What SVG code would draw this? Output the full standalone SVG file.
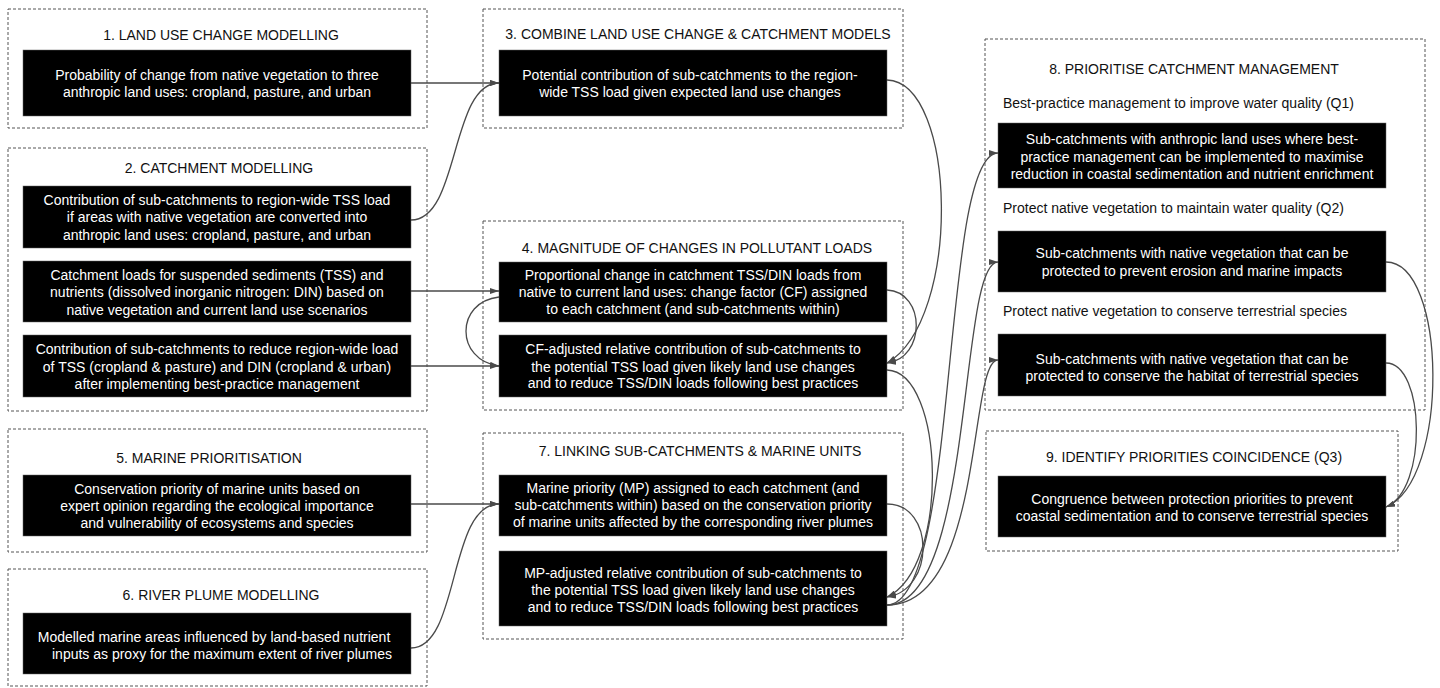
<svg xmlns="http://www.w3.org/2000/svg" width="1440" height="688" viewBox="0 0 1440 688">
<defs>
<style>
.grp{fill:none;stroke:#555;stroke-width:1;stroke-dasharray:3,2}
.box{fill:#000;stroke:#666;stroke-width:0.5}
.t{font-family:"Liberation Sans",Arial,sans-serif;font-size:14px;fill:#111;text-anchor:middle}
.s{font-family:"Liberation Sans",Arial,sans-serif;font-size:14px;fill:#111}
.w{font-family:"Liberation Sans",Arial,sans-serif;font-size:14px;fill:#fff;text-anchor:middle}
.c{fill:none;stroke:#4a4a4a;stroke-width:1.3}
</style>
<marker id="ah" viewBox="0 0 9 6" refX="9" refY="3" markerWidth="9" markerHeight="6" markerUnits="userSpaceOnUse" orient="auto">
<path d="M0,0 L9,3 L0,6 z" fill="#4a4a4a"/>
</marker>
</defs>
<rect width="1440" height="688" fill="#fff"/>

<g id="g1">
<rect class="grp" x="8" y="9" width="419" height="119"/>
<text class="t" x="221" y="40">1. LAND USE CHANGE MODELLING</text>
<rect class="box" x="23" y="50" width="388" height="66"/>
<text class="w" x="217" y="80">Probability of change from native vegetation to three</text>
<text class="w" x="217" y="97">anthropic land uses: cropland, pasture, and urban</text>
</g>

<g id="g2">
<rect class="grp" x="8" y="148" width="419" height="263"/>
<text class="t" x="219" y="173">2. CATCHMENT MODELLING</text>
<rect class="box" x="23" y="186" width="388" height="62"/>
<text class="w" x="217" y="205">Contribution of sub-catchments to region-wide TSS load</text>
<text class="w" x="217" y="222">if areas with native vegetation are converted into</text>
<text class="w" x="217" y="240">anthropic land uses: cropland, pasture, and urban</text>
<rect class="box" x="23" y="261" width="388" height="61"/>
<text class="w" x="217" y="280">Catchment loads for suspended sediments (TSS) and</text>
<text class="w" x="217" y="297">nutrients (dissolved inorganic nitrogen: DIN) based on</text>
<text class="w" x="217" y="315">native vegetation and current land use scenarios</text>
<rect class="box" x="23" y="335" width="388" height="62"/>
<text class="w" x="217" y="354">Contribution of sub-catchments to reduce region-wide load</text>
<text class="w" x="217" y="372">of TSS (cropland &amp; pasture) and DIN (cropland &amp; urban)</text>
<text class="w" x="217" y="389">after implementing best-practice management</text>
</g>

<g id="g5">
<rect class="grp" x="8" y="429" width="419" height="123"/>
<text class="t" x="209" y="463">5. MARINE PRIORITISATION</text>
<rect class="box" x="23" y="475" width="388" height="61"/>
<text class="w" x="217" y="494">Conservation priority of marine units based on</text>
<text class="w" x="217" y="511">expert opinion regarding the ecological importance</text>
<text class="w" x="217" y="528">and vulnerability of ecosystems and species</text>
</g>

<g id="g6">
<rect class="grp" x="8" y="569" width="419" height="117"/>
<text class="t" x="221" y="600">6. RIVER PLUME MODELLING</text>
<rect class="box" x="23" y="613" width="388" height="61"/>
<text class="w" x="214" y="642">Modelled marine areas influenced by land-based nutrient</text>
<text class="w" x="222" y="659">inputs as proxy for the maximum extent of river plumes</text>
</g>

<g id="g3">
<rect class="grp" x="483" y="9" width="420" height="119"/>
<text class="t" x="698" y="39">3. COMBINE LAND USE CHANGE &amp; CATCHMENT MODELS</text>
<rect class="box" x="499" y="50" width="388" height="66"/>
<text class="w" x="690" y="80">Potential contribution of sub-catchments to the region-</text>
<text class="w" x="690" y="97">wide TSS load given expected land use changes</text>
</g>

<g id="g4">
<rect class="grp" x="483" y="221" width="420" height="189"/>
<text class="t" x="697" y="253">4. MAGNITUDE OF CHANGES IN POLLUTANT LOADS</text>
<rect class="box" x="499" y="262" width="388" height="60"/>
<text class="w" x="693" y="280">Proportional change in catchment TSS/DIN loads from</text>
<text class="w" x="693" y="297">native to current land uses: change factor (CF) assigned</text>
<text class="w" x="693" y="314">to each catchment (and sub-catchments within)</text>
<rect class="box" x="499" y="335" width="388" height="62"/>
<text class="w" x="693" y="354">CF-adjusted relative contribution of sub-catchments to</text>
<text class="w" x="693" y="372">the potential TSS load given likely land use changes</text>
<text class="w" x="693" y="388">and to reduce TSS/DIN loads following best practices</text>
</g>

<g id="g7">
<rect class="grp" x="483" y="433" width="420" height="206"/>
<text class="t" x="700" y="456">7. LINKING SUB-CATCHMENTS &amp; MARINE UNITS</text>
<rect class="box" x="499" y="475" width="388" height="61"/>
<text class="w" x="693" y="493">Marine priority (MP) assigned to each catchment (and</text>
<text class="w" x="693" y="510">sub-catchments within) based on the conservation priority</text>
<text class="w" x="693" y="527">of marine units affected by the corresponding river plumes</text>
<rect class="box" x="499" y="551" width="388" height="75"/>
<text class="w" x="693" y="578">MP-adjusted relative contribution of sub-catchments to</text>
<text class="w" x="693" y="595">the potential TSS load given likely land use changes</text>
<text class="w" x="693" y="612">and to reduce TSS/DIN loads following best practices</text>
</g>

<g id="g8">
<rect class="grp" x="985" y="39" width="440" height="371"/>
<text class="t" x="1194" y="74">8. PRIORITISE CATCHMENT MANAGEMENT</text>
<text class="s" x="1003" y="108">Best-practice management to improve water quality (Q1)</text>
<rect class="box" x="998" y="123" width="388" height="65"/>
<text class="w" x="1192" y="144">Sub-catchments with anthropic land uses where best-</text>
<text class="w" x="1192" y="162">practice management can be implemented to maximise</text>
<text class="w" x="1192" y="179">reduction in coastal sedimentation and nutrient enrichment</text>
<text class="s" x="1003" y="213">Protect native vegetation to maintain water quality (Q2)</text>
<rect class="box" x="998" y="231" width="388" height="61"/>
<text class="w" x="1192" y="258">Sub-catchments with native vegetation that can be</text>
<text class="w" x="1192" y="276">protected to prevent erosion and marine impacts</text>
<text class="s" x="1003" y="316">Protect native vegetation to conserve terrestrial species</text>
<rect class="box" x="998" y="334" width="388" height="62"/>
<text class="w" x="1192" y="364">Sub-catchments with native vegetation that can be</text>
<text class="w" x="1192" y="381">protected to conserve the habitat of terrestrial species</text>
</g>

<g id="g9">
<rect class="grp" x="986" y="431" width="412" height="120"/>
<text class="t" x="1194" y="462">9. IDENTIFY PRIORITIES COINCIDENCE (Q3)</text>
<rect class="box" x="998" y="476" width="388" height="61"/>
<text class="w" x="1192" y="504">Congruence between protection priorities to prevent</text>
<text class="w" x="1192" y="521">coastal sedimentation and to conserve terrestrial species</text>
</g>

<g id="connectors">
<path class="c" d="M411,83 L499,83" marker-end="url(#ah)"/>
<path class="c" d="M411,220 C460,220 450,83 499,83" marker-end="url(#ah)"/>
<path class="c" d="M411,291 L499,291" marker-end="url(#ah)"/>
<path class="c" d="M411,366 L499,366" marker-end="url(#ah)"/>
<path class="c" d="M499,297 C455,302 455,360 499,366" marker-end="url(#ah)"/>
<path class="c" d="M887,290 C926,292 926,358 887,363" marker-end="url(#ah)"/>
<path class="c" d="M887,80 C957,82 962,320 887,363" marker-end="url(#ah)"/>
<path class="c" d="M887,370 C945,372 950,568 887,597" marker-end="url(#ah)"/>
<path class="c" d="M887,504 C935,504 935,590 887,597" marker-end="url(#ah)"/>
<path class="c" d="M411,504 L499,504" marker-end="url(#ah)"/>
<path class="c" d="M411,648 C460,648 448,504 499,504" marker-end="url(#ah)"/>
<path class="c" d="M887,605 C960,605 940,153 998,153" marker-end="url(#ah)"/>
<path class="c" d="M887,605 C975,605 958,262 998,262" marker-end="url(#ah)"/>
<path class="c" d="M887,605 C985,605 968,360 998,360" marker-end="url(#ah)"/>
<path class="c" d="M1386,262 C1447,262 1450,480 1386,507" marker-end="url(#ah)"/>
<path class="c" d="M1386,363 C1425,363 1428,490 1386,507" marker-end="url(#ah)"/>
</g>
</svg>
